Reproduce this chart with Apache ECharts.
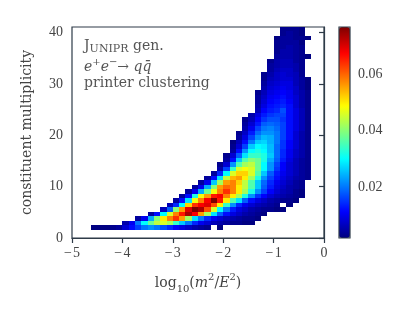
<!DOCTYPE html>
<html><head><meta charset="utf-8">
<script src="https://cdn.jsdelivr.net/npm/echarts@6/dist/echarts.min.js"></script>
<style>html,body{margin:0;padding:0;background:#fff}#c{width:415px;height:312px}</style>
</head><body><div id="c"></div>
<script>
// ---- bin geometry (data units) ----
const xBinStart = -5, xBinWidth = 0.125;
const yBinStart = 1.6, yBinWidth = 0.878;
// ---- axis ticks ----
const xTicks = [-5, -4, -3, -2, -1, 0];
const yTicks = [0, 10, 20, 30, 40];
const cbTicks = [0.02, 0.04, 0.06];
const cbMin = 0.0018, cbMax = 0.077;
// first x-bin index of each multiplicity row (bottom to top)
const rowFirstBin = [3,8,10,12,14,15,16,17,18,19,20,21,22,23,23,24,24,25,25,25,26,26,27,27,27,28,29,29,29,29,29,30,30,30,30,31,31,31,32,32,32,32,32,33,33];
// normalized density per bin, in units of 1e-3 (null = empty bin)
const rowDensity = [
 [2,2,2,3,4,8,12,16,20,22,20,17,14,11,9,7,5,4,3,null,2],
 [5,10,20,30,38,44,46,42,34,26,20,14,10,8,6,5,4,3,3,2,2],
 [4,10,24,40,50,58,64,56,42,28,20,14,10,8,6,5,4,3,3,2],
 [4,12,30,46,58,66,74,68,56,42,28,18,12,9,7,5,4,3,2],
 [6,18,40,56,70,77,74,62,46,30,20,13,9,7,5,4,3,3,2,2],
 [6,14,30,52,64,68,70,62,50,34,22,14,10,8,6,5,4,3,null,2],
 [4,12,28,48,58,68,77,66,50,36,28,18,12,9,7,5,4,3,3,2],
 [4,12,32,48,56,66,68,58,50,42,32,22,15,11,8,6,5,4,3,2],
 [4,10,24,38,48,58,64,58,50,42,32,22,16,11,8,6,5,3,2],
 [4,10,24,40,56,60,58,50,44,36,26,18,13,9,7,5,4,3],
 [4,10,26,42,56,58,52,44,36,26,19,14,10,8,6,4,3],
 [4,12,28,44,54,56,50,42,32,22,16,12,9,7,5,4,3],
 [4,14,30,46,52,52,46,36,26,18,13,10,8,6,4,3],
 [5,16,34,46,48,46,38,30,22,15,11,8,6,4,3],
 [3,8,22,36,42,44,38,30,22,16,11,8,6,4,3],
 [4,12,26,36,40,38,32,24,18,13,9,6,4,3],
 [3,8,18,28,34,34,32,26,19,14,10,7,5,3],
 [4,12,22,30,32,30,25,19,14,10,7,5,3],
 [3,8,16,26,30,29,25,19,15,11,8,5,3],
 [2,6,12,20,26,27,24,20,15,11,8,5,3],
 [4,9,16,22,25,24,20,16,12,8,5,3],
 [3,7,13,19,22,22,20,16,12,8,5,3],
 [5,10,16,20,21,19,16,12,9,6,3],
 [4,8,13,18,19,18,16,12,9,6,3],
 [3,6,11,15,17,17,15,12,9,6,3],
 [5,9,13,15,16,16,12,9,6,3],
 [6,11,13,14,17,12,9,6,3],
 [5,9,12,13,14,12,8,5,3],
 [4,8,11,12,13,11,8,5,3],
 [4,7,10,11,12,10,8,5,3],
 [3,6,9,10,11,10,7,5,3],
 [5,8,9,10,9,7,4,2],
 [4,7,8,9,9,6,4,2],
 [3,6,7,8,8,6,4,2],
 [3,5,7,8,7,6,3],
 [4,6,7,7,5,3],
 [4,5,6,6,5,3],
 [3,5,6,6,4,3],
 [4,5,5,4,3,2],
 [3,5,5,4,3],
 [3,4,5,4,3],
 [3,4,4,4,2],
 [2,4,4,3,3,2],
 [3,4,3,2],
 [3,3,3,2]
];
const jet = ['#00007f','#0000ff','#007fff','#00ffff','#7fff7f','#ffff00','#ff7f00','#ff0000','#7f0000'];

const cells = [];
rowDensity.forEach((row, r) => {
  row.forEach((v, i) => {
    if (v == null) return;
    cells.push([xBinStart + (rowFirstBin[r] + i) * xBinWidth, yBinStart + r * yBinWidth, v / 1000]);
  });
});

const F = '"Liberation Serif", serif';
const FT = '"DejaVu Serif", serif';
const AX = '#2e3b48';
const TX = '#444';
const AN = '#555';
const minus = v => (v < 0 ? '\u2212\u200a' + Math.abs(v) : String(v));

const chart = echarts.init(document.getElementById('c'), null, {renderer: 'canvas'});
chart.setOption({
  animation: false,
  backgroundColor: '#fff',
  grid: [
    {left: 72, top: 27, width: 252, height: 211, show: true, borderColor: AX, borderWidth: 1.2, backgroundColor: 'transparent'},
    {left: 339, top: 27, width: 11, height: 211, show: true, borderColor: AX, borderWidth: 1.2, backgroundColor: 'transparent', z: 10}
  ],
  xAxis: [
    {type: 'value', gridIndex: 0, min: -5, max: 0, interval: 1,
     axisLine: {lineStyle: {color: AX, width: 1.2}},
     axisTick: {length: 5, lineStyle: {color: AX, width: 1.2}},
     axisLabel: {formatter: minus, color: TX, fontFamily: F, fontSize: 14, margin: 8},
     splitLine: {show: false},
     name: '{n|log}{sub|10}{n|(}{i|m}{sup|2}{n|/}{i|E}{sup|2}{n|)}',
     nameLocation: 'middle', nameGap: 34,
     nameTextStyle: {rich: {
       n: {fontFamily: FT, fontSize: 14, color: TX, lineHeight: 22},
       i: {fontFamily: FT, fontSize: 14, fontStyle: 'italic', color: TX, lineHeight: 22},
       sub: {fontFamily: FT, fontSize: 10, color: TX, lineHeight: 12, verticalAlign: 'bottom'},
       sup: {fontFamily: FT, fontSize: 10, color: TX, lineHeight: 12, verticalAlign: 'top'}
     }}},
    {type: 'value', gridIndex: 1, show: false, min: 0, max: 1}
  ],
  yAxis: [
    {type: 'value', gridIndex: 0, min: 0, max: 41.1,
     axisLine: {show: true, lineStyle: {color: AX, width: 1.2}},
     axisTick: {show: true, length: 5, customValues: yTicks, lineStyle: {color: AX, width: 1.2}},
     axisLabel: {customValues: yTicks, color: TX, fontFamily: F, fontSize: 14, margin: 9},
     splitLine: {show: false},
     name: 'constituent multiplicity', nameLocation: 'middle', nameGap: 38,
     nameTextStyle: {fontFamily: FT, fontSize: 14, color: TX}},
    {type: 'value', gridIndex: 1, min: cbMin, max: cbMax, position: 'right',
     axisLine: {show: false},
     axisTick: {show: true, length: 5, customValues: cbTicks, lineStyle: {color: AX, width: 1.2}},
     axisLabel: {customValues: cbTicks, formatter: v => v.toFixed(2), color: TX, fontFamily: F, fontSize: 14, margin: 8},
     splitLine: {show: false}}
  ],
  visualMap: {
    type: 'continuous', min: cbMin, max: cbMax, dimension: 2, seriesIndex: 0,
    inRange: {color: jet}, calculable: false, hoverLink: false,
    left: 339, top: 27, itemWidth: 11, itemHeight: 211, padding: 0,
    text: ['', ''], showLabel: false, orient: 'vertical'
  },
  graphic: [
    {type: 'text', left: 84, top: 39, style: {
      text: '{b|J}{s|UNIPR}{b| gen.}',
      rich: {b: {fontFamily: FT, fontSize: 14, fill: AN, lineHeight: 18},
             s: {fontFamily: FT, fontSize: 11, fill: AN, lineHeight: 16, verticalAlign: 'bottom'}}}},
    {type: 'text', left: 84, top: 57, style: {
      text: '{i|e}{p|+}{i|e}{p|\u2212}{n|\u2192 }{i|q}{i|q\u0304}',
      rich: {i: {fontFamily: FT, fontSize: 14, fontStyle: 'italic', fill: AN, lineHeight: 20},
             n: {fontFamily: FT, fontSize: 14, fill: AN, lineHeight: 20},
             p: {fontFamily: FT, fontSize: 10, fill: AN, lineHeight: 12, verticalAlign: 'top'}}}},
    {type: 'text', left: 84, top: 76, style: {
      text: 'printer clustering', font: '14px ' + FT, fill: AN}}
  ],
  series: [{
    type: 'custom', xAxisIndex: 0, yAxisIndex: 0, data: cells,
    renderItem: function (params, api) {
      const x0 = api.value(0), y0 = api.value(1);
      const a = api.coord([x0, y0 + yBinWidth]);
      const b = api.coord([x0 + xBinWidth, y0]);
      const x = Math.round(a[0]), y = Math.round(a[1]);
      return {type: 'rect', shape: {x: x, y: y, width: Math.round(b[0]) - x, height: Math.round(b[1]) - y},
              style: {fill: api.visual('color')}};
    }
  }]
});
</script></body></html>
